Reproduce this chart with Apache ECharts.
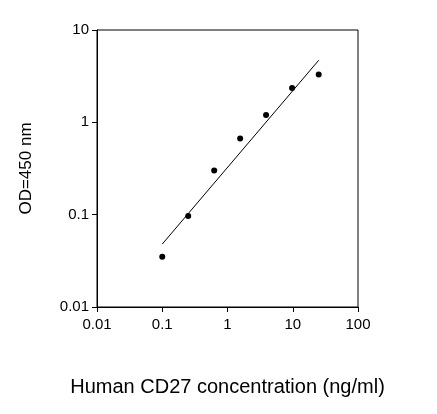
<!DOCTYPE html>
<html>
<head>
<meta charset="utf-8">
<script src="https://cdn.jsdelivr.net/npm/echarts@6/dist/echarts.min.js"></script>
<style>html,body{margin:0;padding:0;background:#fff}#c{width:437px;height:414px}</style>
</head>
<body>
<div id="c"></div>
<script>
// measured points
var conc = [0.1, 0.25, 0.625, 1.5625, 3.9, 9.77, 25];
var od = [0.035, 0.097, 0.30, 0.67, 1.2, 2.35, 3.3];
// fitted line ends
var fitX = [0.1, 25];
var fitY = [0.048, 4.7];

var chart = echarts.init(document.getElementById('c'));
var font = 'Arial, "Liberation Sans", sans-serif';
chart.setOption({
    animation: false,
    grid: { left: 97, right: 79, top: 30, bottom: 107, show: true, borderColor: '#000', borderWidth: 1, backgroundColor: 'transparent' },
    xAxis: {
        type: 'log', min: 0.01, max: 100, logBase: 10,
        name: 'Human CD27 concentration (ng/ml)', nameLocation: 'middle', nameGap: 70,
        nameTextStyle: { fontFamily: font, fontSize: 20, color: '#000' },
        axisLine: { lineStyle: { color: '#000' } },
        axisTick: { length: 5, lineStyle: { color: '#000' } },
        splitLine: { show: false },
        axisLabel: { fontFamily: font, fontSize: 15, color: '#000', margin: 10,
            formatter: function (v) { return String(+v.toPrecision(2)); } }
    },
    yAxis: {
        type: 'log', min: 0.01, max: 10, logBase: 10,
        name: 'OD=450 nm', nameLocation: 'middle', nameGap: 62,
        nameTextStyle: { fontFamily: font, fontSize: 17, color: '#000' },
        axisLine: { lineStyle: { color: '#000' } },
        axisTick: { length: 5, lineStyle: { color: '#000' } },
        splitLine: { show: false },
        axisLabel: { fontFamily: font, fontSize: 15, color: '#000', margin: 8,
            formatter: function (v) { return String(+v.toPrecision(2)); } }
    },
    series: [
        { type: 'line', data: fitX.map(function (x, i) { return [x, fitY[i]]; }),
          showSymbol: false, lineStyle: { color: '#000', width: 1 } },
        { type: 'scatter', data: conc.map(function (x, i) { return [x, od[i]]; }),
          symbolSize: 6, itemStyle: { color: '#000', opacity: 1 } }
    ]
});
</script>
</body>
</html>
